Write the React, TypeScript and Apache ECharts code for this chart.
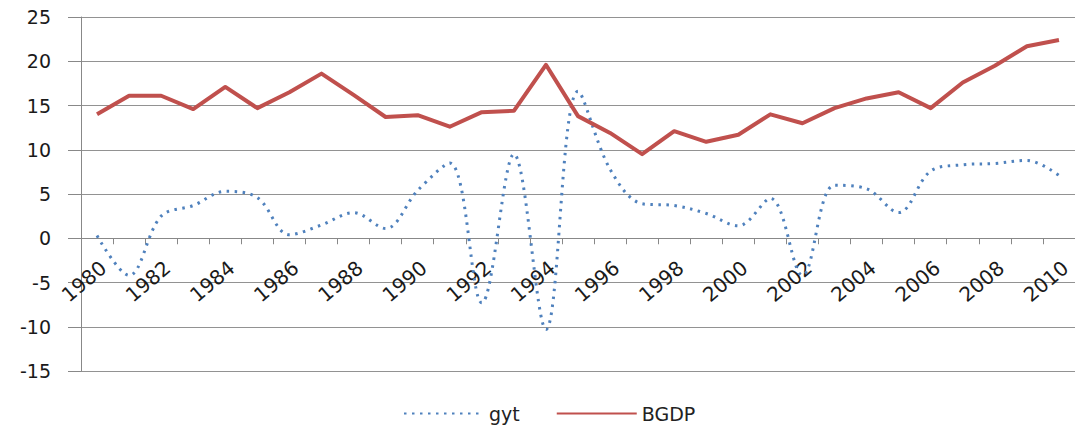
import React, { useEffect, useRef } from "react";
import * as echarts from "echarts";

const years: string[] = [
  "1980", "1981", "1982", "1983", "1984", "1985", "1986", "1987", "1988", "1989",
  "1990", "1991", "1992", "1993", "1994", "1995", "1996", "1997", "1998", "1999",
  "2000", "2001", "2002", "2003", "2004", "2005", "2006", "2007", "2008", "2009", "2010",
];

const gyt: number[] = [
  0.3, -4.2, 2.5, 3.7, 5.3, 4.6, 0.4, 1.5, 2.9, 1.1,
  5.4, 8.5, -7.3, 9.5, -10.3, 16.6, 7.8, 3.9, 3.7, 2.8,
  1.4, 4.5, -4.2, 6.0, 5.6, 2.9, 7.6, 8.3, 8.45, 8.8, 7.1,
];

const bgdp: number[] = [
  14.0, 16.1, 16.1, 14.6, 17.1, 14.7, 16.5, 18.6, 16.2, 13.7,
  13.9, 12.6, 14.25, 14.4, 19.6, 13.8, 11.9, 9.5, 12.1, 10.9,
  11.7, 14.0, 13.0, 14.7, 15.8, 16.5, 14.7, 17.6, 19.5, 21.7, 22.4,
];

const yTicks = { min: -15, max: 25, interval: 5 };

const FONT = "DejaVu Sans";

// layout of the plot area (pixels)
const GRID_TOP = 17;
const GRID_BOTTOM = 59;
const CHART_H = 430;
const plotH = CHART_H - GRID_TOP - GRID_BOTTOM;
const zeroFromBottom =
  CHART_H - (GRID_TOP + (plotH * (yTicks.max - 0)) / (yTicks.max - yTicks.min));

export default function App() {
  const ref = useRef<HTMLDivElement>(null);
  useEffect(() => {
    if (!ref.current) return;
    const chart = echarts.init(ref.current, undefined, { renderer: "svg" });
    chart.setOption({
      animation: false,
      backgroundColor: "#ffffff",
      textStyle: { fontFamily: FONT },
      grid: [
        { left: 81, right: 0, top: GRID_TOP, bottom: GRID_BOTTOM, containLabel: false, outerBoundsMode: "none" },
        { left: 81, right: 0, top: GRID_TOP, bottom: zeroFromBottom, containLabel: false, outerBoundsMode: "none" },
      ],
      legend: {
        left: 398,
        top: 399,
        itemWidth: 80,
        itemHeight: 14,
        itemGap: 36,
        itemStyle: { opacity: 0 },
        textStyle: { fontSize: 19, color: "#222", fontFamily: FONT },
        data: ["gyt", "BGDP"],
      },
      xAxis: [
        {
          type: "category",
          gridIndex: 0,
          data: years,
          boundaryGap: true,
          show: false,
        },
        {
          type: "category",
          gridIndex: 1,
          data: years,
          boundaryGap: true,
          position: "bottom",
          axisLine: { show: true, onZero: false, lineStyle: { color: "#888", width: 1 } },
          axisTick: { show: true, interval: 0, length: 6, lineStyle: { color: "#888" } },
          axisLabel: {
            interval: 1,
            rotate: 40,
            margin: 19,
            align: "right",
            verticalAlign: "top",
            fontSize: 20,
            color: "#1a1a1a",
            fontFamily: FONT,
          },
          splitLine: { show: false },
        },
      ],
      yAxis: [
        {
          type: "value",
          gridIndex: 0,
          min: yTicks.min,
          max: yTicks.max,
          interval: yTicks.interval,
          axisLine: { show: true, lineStyle: { color: "#888", width: 1 } },
          axisTick: { show: true, length: 13, lineStyle: { color: "#888" } },
          axisLabel: { fontSize: 19, color: "#1a1a1a", margin: 30, fontFamily: FONT },
          splitLine: { show: true, lineStyle: { color: "#929292", width: 1 } },
        },
        {
          type: "value",
          gridIndex: 1,
          min: 0,
          max: 1,
          show: false,
          splitLine: { show: false },
        },
      ],
      series: [
        {
          name: "gyt",
          type: "line",
          xAxisIndex: 0,
          yAxisIndex: 0,
          data: gyt,
          smooth: 0.35,
          showSymbol: false,
          symbol: "none",
          color: "#4F81BD",
          lineStyle: { color: "#4F81BD", width: 3, type: [2.5, 5.5], cap: "butt" },
          z: 2,
        },
        {
          name: "BGDP",
          type: "line",
          xAxisIndex: 0,
          yAxisIndex: 0,
          data: bgdp,
          smooth: false,
          showSymbol: false,
          symbol: "none",
          color: "#C0504D",
          lineStyle: { color: "#C0504D", width: 4, join: "round" },
          z: 3,
        },
      ],
    });
    return () => chart.dispose();
  }, []);
  return (
    <div
      ref={ref}
      style={{ position: "fixed", left: 0, top: 0, width: 1075, height: 430 }}
    />
  );
}
